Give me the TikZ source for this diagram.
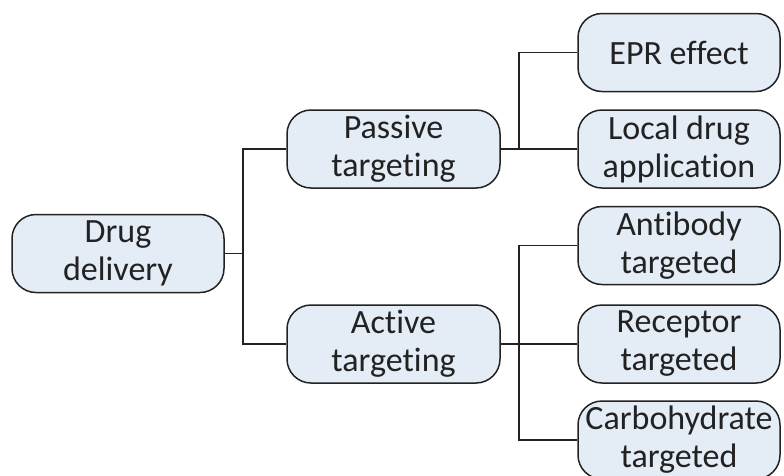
\documentclass[tikz,border=0pt]{standalone}
\usepackage{fontspec}
\setmainfont{Carlito}[Ligatures={NoCommon}]
\definecolor{boxfill}{HTML}{E4ECF6}
\definecolor{ink}{HTML}{222222}
\begin{document}
\begin{tikzpicture}[x=1pt,y=-1pt,
  treebox/.style={draw=ink, line width=1.5pt, fill=boxfill, rounded corners=24pt,
    align=center, inner sep=0pt, text=ink,
    font=\fontsize{34}{38}\selectfont},
  leftbox/.style={treebox, minimum width=212pt, minimum height=78pt},
  rightbox/.style={treebox, minimum width=202pt, minimum height=78pt},
  link/.style={draw=ink, line width=1.5pt}]
\useasboundingbox (0,0) rectangle (784,475);

% root and first level
\node[leftbox] (drug) at (118,253.5) {Drug\\delivery};
\node[leftbox, minimum width=213pt] (passive) at (393.5,149) {Passive\\targeting};
\node[leftbox, minimum width=213pt] (active) at (393.5,344) {Active\\targeting};

% second level
\node[rightbox] (epr) at (679,52.5) {EPR effect};
\node[rightbox] (local) at (679,149) {Local drug\\application};
\node[rightbox] (anti) at (679,245.5) {Antibody\\targeted};
\node[rightbox] (recep) at (679,344) {Receptor\\targeted};
\node[rightbox] (carbo) at (679,440) {Carbohydrate\\targeted};

% junctions
\coordinate (j1) at (243,253.5);
\coordinate (j2) at (519,149);
\coordinate (j3) at (519,344);

% connectors
\draw[link] (drug.east) -- (j1);
\draw[link] (passive.west) -| (j1) |- (active.west);
\draw[link] (passive.east) -- (local.west);
\draw[link] (j2) |- (epr.west);
\draw[link] (active.east) -- (recep.west);
\draw[link] (anti.west) -| (j3) |- (carbo.west);
\end{tikzpicture}
\end{document}
